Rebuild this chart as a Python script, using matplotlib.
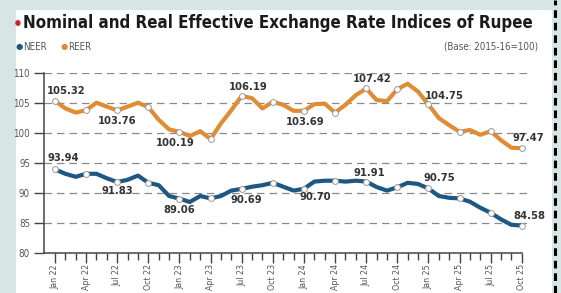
import matplotlib
matplotlib.use('Agg')
import matplotlib.pyplot as plt
from matplotlib.patches import Rectangle
from matplotlib.lines import Line2D
from matplotlib.ticker import FixedLocator

# monthly data, Jan 2022 .. Oct 2025
months = ['Jan 22', 'Feb 22', 'Mar 22', 'Apr 22', 'May 22', 'Jun 22', 'Jul 22', 'Aug 22', 'Sep 22', 'Oct 22', 'Nov 22', 'Dec 22',
          'Jan 23', 'Feb 23', 'Mar 23', 'Apr 23', 'May 23', 'Jun 23', 'Jul 23', 'Aug 23', 'Sep 23', 'Oct 23', 'Nov 23', 'Dec 23',
          'Jan 24', 'Feb 24', 'Mar 24', 'Apr 24', 'May 24', 'Jun 24', 'Jul 24', 'Aug 24', 'Sep 24', 'Oct 24', 'Nov 24', 'Dec 24',
          'Jan 25', 'Feb 25', 'Mar 25', 'Apr 25', 'May 25', 'Jun 25', 'Jul 25', 'Aug 25', 'Sep 25', 'Oct 25']

reer = [105.32, 104.1, 103.4, 103.8, 105.05, 104.4, 103.76, 104.4, 105.05, 104.3, 102.2, 100.6,
        100.19, 99.5, 100.3, 99.0, 101.6, 103.8, 106.19, 105.8, 104.1, 105.2, 104.7, 103.7,
        103.69, 104.8, 104.9, 103.4, 104.7, 106.3, 107.42, 105.5, 105.3, 107.3, 108.2, 106.9,
        104.75, 102.5, 101.3, 100.2, 100.5, 99.7, 100.3, 98.8, 97.55, 97.47]

neer = [93.94, 93.2, 92.7, 93.2, 93.2, 92.45, 91.83, 92.2, 92.9, 91.7, 91.3, 89.5,
        89.06, 88.5, 89.5, 89.1, 89.5, 90.4, 90.69, 91.05, 91.3, 91.7, 91.05, 90.4,
        90.70, 91.9, 92.05, 92.05, 91.9, 92.05, 91.91, 91.0, 90.4, 90.95, 91.7, 91.5,
        90.75, 89.5, 89.2, 89.1, 88.55, 87.55, 86.7, 85.6, 84.7, 84.58]

# labelled points (month index) and where the label sits (pixel offset)
reer_lab_idx = [0, 6, 12, 18, 24, 30, 36, 45]
reer_lab_off = [(11, 10), (0, -11), (-4, -11), (6, 9), (1, -11), (6, 9), (16, 8), (7, 10)]
neer_lab_idx = [0, 6, 12, 18, 24, 30, 36, 45]
neer_lab_off = [(8, 11), (0, -9), (0, -11), (5, -11), (11, -8), (3, 9), (11, 10), (8, 10)]

neer_col = '#1d5782'
reer_col = '#e08c33'
bg_col = '#d7e5e5'
cond = 'DejaVu Sans'

fig = plt.figure(figsize=(5.61, 2.93), dpi=100)
fig.patch.set_facecolor(bg_col)

W, H = 561.0, 293.0
# white card
fig.patches.append(Rectangle((16 / W, 0), (552 - 16) / W, (H - 10) / H,
                             transform=fig.transFigure, facecolor='white', edgecolor='none', zorder=-5))
# dashed border on the right
fig.lines.append(Line2D([555 / W, 555 / W], [0, 1], transform=fig.transFigure, color='black',
                        lw=2.2, ls=(0, (2.5, 1.6)), zorder=-4))

# title and legend line
fig.text(18 / W, 1 - 24 / H, '\u2022', color='#c0282d', fontsize=11, fontweight='bold',
         va='center', ha='center', family=cond)
title = fig.text(23 / W, 1 - 23 / H, 'Nominal and Real Effective Exchange Rate Indices of Rupee', color='#1a1a1a',
                 fontsize=15, fontweight='bold', va='center', ha='left', family=cond, fontstretch='condensed')
# shrink the title so it ends where the reference one does
r = fig.canvas.get_renderer()
tw = title.get_window_extent(r).width
title.set_fontsize(15 * (537 - 23) / tw)

fig.text(16 / W, 1 - 47 / H, '\u25cf', color=neer_col, fontsize=6, va='center', ha='left')
fig.text(23 / W, 1 - 47 / H, 'NEER', color='#555555', fontsize=7, va='center', ha='left', family=cond, fontstretch='condensed')
fig.text(61 / W, 1 - 47 / H, '\u25cf', color=reer_col, fontsize=6, va='center', ha='left')
fig.text(68 / W, 1 - 47 / H, 'REER', color='#555555', fontsize=7, va='center', ha='left', family=cond, fontstretch='condensed')
fig.text(538 / W, 1 - 47 / H, '(Base: 2015-16=100)', color='#555555', fontsize=7, va='center', ha='right',
         family=cond, fontstretch='condensed')

# plot area
ax = fig.add_axes([44 / W, 1 - 253 / H, (528 - 44) / W, (253 - 73) / H])
ax.set_facecolor('none')
x = list(range(len(months)))

ax.plot(x, reer, color=reer_col, lw=3, solid_joinstyle='round', solid_capstyle='round', zorder=3)
ax.plot(x, neer, color=neer_col, lw=3, solid_joinstyle='round', solid_capstyle='round', zorder=3)
q = x[::3]
ax.plot(q, [reer[i] for i in q], ls='none', marker='o', ms=4.2, mfc='white', mec='#999999', mew=0.7, zorder=4)
ax.plot(q, [neer[i] for i in q], ls='none', marker='o', ms=4.2, mfc='white', mec='#999999', mew=0.7, zorder=4)

for idxs, offs, vals in [(reer_lab_idx, reer_lab_off, reer), (neer_lab_idx, neer_lab_off, neer)]:
    for i, (dx, dy) in zip(idxs, offs):
        ax.annotate('%.2f' % vals[i], (i, vals[i]), xytext=(dx, dy), textcoords='offset pixels',
                    ha='center', va='center', fontsize=8, fontweight='bold', color='#333333',
                    family=cond, fontstretch='condensed', annotation_clip=False, zorder=5)

ax.set_xlim(-1.06, 45.6)
ax.set_ylim(80, 110)
ax.set_yticks([80, 85, 90, 95, 100, 105, 110])
for v in [85, 90, 95, 100, 105, 110]:
    ax.axhline(v, color='#8a8a8a', lw=0.9, ls=(0, (6, 4)), zorder=1)

ax.xaxis.set_major_locator(FixedLocator(q))
ax.xaxis.set_minor_locator(FixedLocator(x))
ax.set_xticklabels([months[i] for i in q], rotation=90, fontsize=6.3, color='#555555',
                   family=cond, fontstretch='condensed')
ax.tick_params(axis='x', which='major', length=7, width=1, color='#444444', pad=1)
ax.tick_params(axis='x', which='minor', length=5, width=1, color='#444444')
ax.tick_params(axis='y', length=7, width=1, color='#444444', labelsize=7, labelcolor='#555555', pad=3)
for lab in ax.get_yticklabels():
    lab.set_family(cond)
    lab.set_fontstretch('condensed')

for s in ['top', 'right']:
    ax.spines[s].set_visible(False)
for s in ['left', 'bottom']:
    ax.spines[s].set_color('#444444')
    ax.spines[s].set_linewidth(1.1)
ax.spines['bottom'].set_bounds(-1.06, 45)

fig.savefig('out.png', dpi=100, facecolor=fig.get_facecolor())
